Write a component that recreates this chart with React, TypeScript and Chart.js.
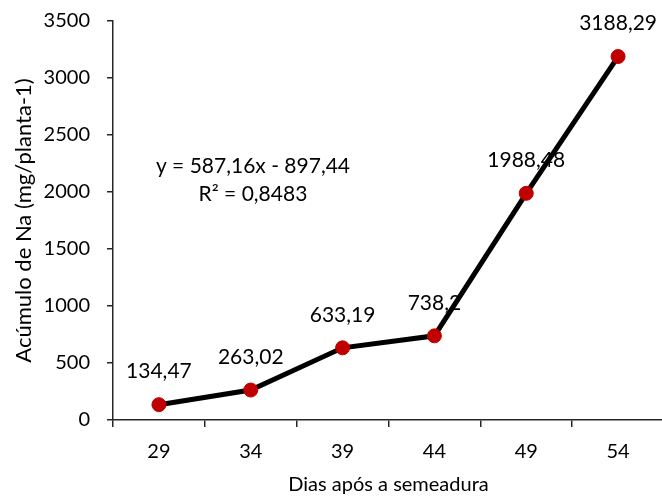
import React, { useEffect, useRef } from "react";
import { Chart, registerables } from "chart.js";

Chart.register(...registerables);

const categories = ["29", "34", "39", "44", "49", "54"];
const values = [134.47, 263.02, 633.19, 738.2, 1988.48, 3188.29];
const valueLabels = ["134,47", "263,02", "633,19", "738,2", "1988,48", "3188,29"];
const yTicks = [0, 500, 1000, 1500, 2000, 2500, 3000, 3500];
const equationLines = ["y = 587,16x - 897,44", "R² = 0,8483"];
const xTitle = "Dias após a semeadura";
const yTitle = "Acúmulo de Na (mg/planta-1)";

const FONT = "Lato";
const AXIS_COLOR = "#262626";
const TEXT_COLOR = "#000000";

export default function App() {
  const ref = useRef<HTMLCanvasElement | null>(null);

  useEffect(() => {
    if (!ref.current) return;
    const labelPlugin = {
      id: "labelsAndEquation",
      afterDatasetsDraw(chart: any) {
        const ctx = chart.ctx;
        const meta = chart.getDatasetMeta(0);
        ctx.save();
        ctx.font = `21px ${FONT}`;
        ctx.fillStyle = TEXT_COLOR;
        ctx.textAlign = "center";
        ctx.textBaseline = "middle";
        meta.data.forEach((el: any, i: number) => {
          ctx.fillText(valueLabels[i], el.x, el.y - 33);
        });
        const ca = chart.chartArea;
        const cx = ca.left + (ca.right - ca.left) * 0.254;
        const y0 = ca.top + (ca.bottom - ca.top) * 0.363;
        equationLines.forEach((t, i) => {
          ctx.fillText(t, cx, y0 + i * 28);
        });
        ctx.restore();
      },
    };

    const chart = new Chart(ref.current, {
      type: "line",
      data: {
        labels: categories,
        datasets: [
          {
            data: values,
            borderColor: "#000000",
            borderWidth: 5,
            backgroundColor: "#C00000",
            pointBackgroundColor: "#C00000",
            pointBorderColor: "#C00000",
            pointRadius: 7,
            pointBorderWidth: 1,
            tension: 0,
            fill: false,
          },
        ],
      },
      options: {
        responsive: false,
        animation: false,
        layout: { padding: { top: 21, right: 0, left: 0, bottom: 0 } },
        plugins: {
          legend: { display: false },
          tooltip: { enabled: false },
        },
        scales: {
          x: {
            type: "category",
            offset: true,
            grid: {
              offset: true,
              drawOnChartArea: false,
              drawTicks: true,
              tickLength: 7,
              color: AXIS_COLOR,
              lineWidth: 1.5,
            },
            border: { display: true, color: AXIS_COLOR, width: 1.5 },
            ticks: {
              color: TEXT_COLOR,
              font: { family: FONT, size: 20 },
              padding: 13,
              maxRotation: 0,
            },
            title: {
              display: true,
              text: xTitle,
              color: TEXT_COLOR,
              font: { family: FONT, size: 20 },
              padding: { top: 0, bottom: 0 },
            },
            afterFit(scale: any) {
              scale.height = 77;
              scale.paddingLeft = 0;
              scale.paddingRight = 0;
            },
          },
          y: {
            min: 0,
            max: 3500,
            afterBuildTicks(scale: any) {
              scale.ticks = yTicks.map((v) => ({ value: v }));
            },
            grid: {
              drawOnChartArea: false,
              drawTicks: true,
              tickLength: 6,
              color: AXIS_COLOR,
              lineWidth: 1.5,
            },
            border: { display: true, color: AXIS_COLOR, width: 1.5 },
            ticks: {
              color: TEXT_COLOR,
              font: { family: FONT, size: 20 },
              padding: 17,
              callback: (v: any) => String(v),
            },
            title: {
              display: true,
              text: yTitle,
              color: TEXT_COLOR,
              font: { family: FONT, size: 22 },
              padding: { top: 11, bottom: 0 },
            },
            afterFit(scale: any) {
              scale.width = 113;
              scale.paddingTop = 0;
              scale.paddingBottom = 0;
            },
          },
        },
      },
      plugins: [labelPlugin],
    });
    return () => chart.destroy();
  }, []);

  return (
    <div style={{ position: "absolute", left: 0, top: 0, width: 662, height: 497, overflow: "hidden" }}>
      <canvas ref={ref} width={672} height={497} style={{ display: "block" }} />
    </div>
  );
}
